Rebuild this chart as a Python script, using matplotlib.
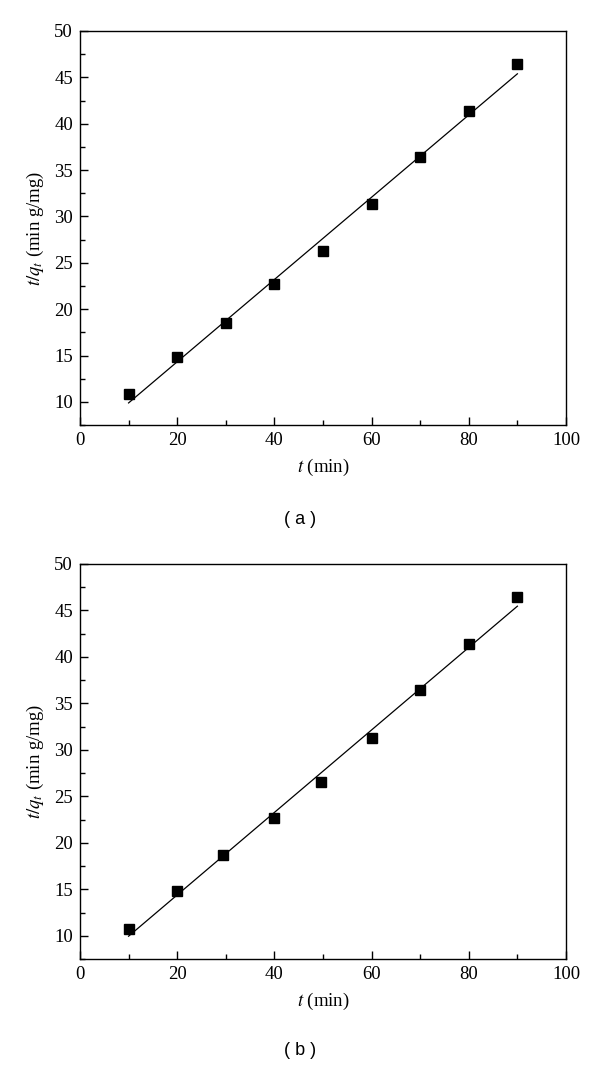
import matplotlib
matplotlib.use("Agg")
import matplotlib.pyplot as plt
import numpy as np
from matplotlib.ticker import MultipleLocator

plt.rcParams['font.family'] = ['Liberation Serif', 'DejaVu Serif']
plt.rcParams['mathtext.fontset'] = 'stix'

# contact time (min) and t/qt (min g/mg) for the two panels
time_a = [10, 20, 30, 40, 50, 60, 70, 80, 90]
tq_a = [10.9, 14.8, 18.5, 22.7, 26.3, 31.3, 36.4, 41.4, 46.4]

time_b = [10, 20, 29.5, 40, 49.5, 60, 70, 80, 90]
tq_b = [10.7, 14.8, 18.7, 22.7, 26.5, 31.3, 36.4, 41.4, 46.4]

panels = [("( a )", time_a, tq_a, [0.1333, 0.602, 0.81, 0.369], 0.506),
          ("( b )", time_b, tq_b, [0.1333, 0.102, 0.81, 0.370], 0.008)]

fig = plt.figure(figsize=(6, 10.68), dpi=100)

for tag, x, y, rect, tag_y in panels:
    ax = fig.add_axes(rect)
    x = np.array(x)
    y = np.array(y)
    # pseudo-second-order linear fit
    k, b = np.polyfit(x, y, 1)
    ax.plot(x, k * x + b, color='black', lw=0.9)
    ax.plot(x, y, 's', color='black', ms=7)

    ax.set_xlim(0, 100)
    ax.set_ylim(7.5, 50)
    ax.xaxis.set_major_locator(MultipleLocator(20))
    ax.xaxis.set_minor_locator(MultipleLocator(10))
    ax.yaxis.set_major_locator(MultipleLocator(5))
    ax.yaxis.set_minor_locator(MultipleLocator(2.5))
    ax.tick_params(which='both', direction='in', top=False, right=False, labelsize=13.5)
    ax.tick_params(which='major', length=6, width=1, pad=5)
    ax.tick_params(which='minor', length=3.5, width=1)
    for s in ax.spines.values():
        s.set_linewidth(1)

    ax.set_xlabel('$t$ (min)', fontsize=13.5, labelpad=6)
    ax.set_ylabel('$t/q_t$ (min g/mg)', fontsize=13.5, labelpad=6)

    fig.text(0.5, tag_y, tag, ha='center', va='bottom', fontsize=13,
             family=['Liberation Sans', 'DejaVu Sans'])

fig.savefig('out.png', dpi=100)
